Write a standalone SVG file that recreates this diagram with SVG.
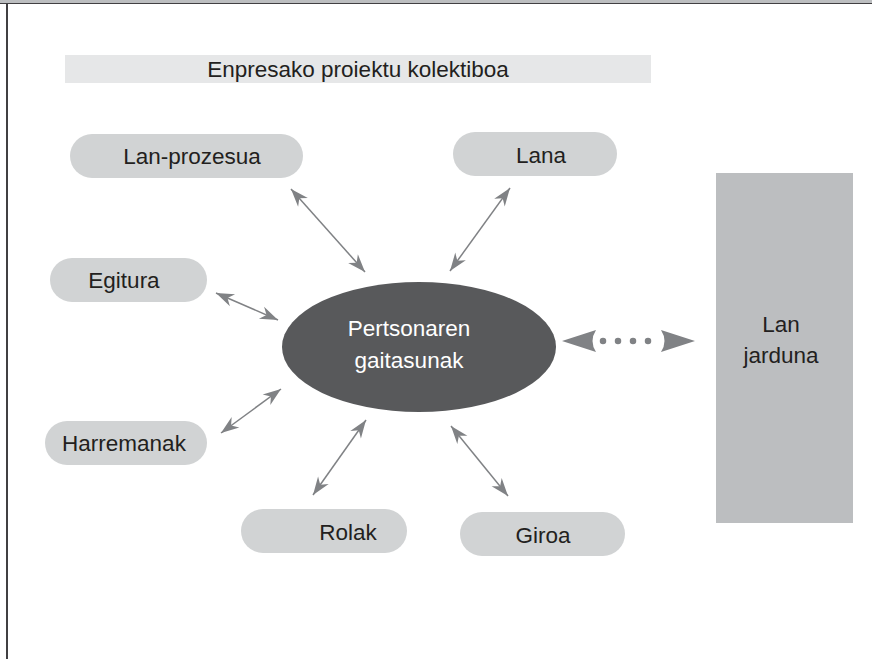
<svg xmlns="http://www.w3.org/2000/svg" width="872" height="659" viewBox="0 0 872 659">
  <style>
    .label { font-family: "Liberation Sans", Arial, sans-serif; font-size: 22.5px; fill: #231f20; text-anchor: middle; }
    .pill { fill: #d1d3d4; }
    .link { stroke: #808285; stroke-width: 1.5; fill: none; marker-start: url(#tip); marker-end: url(#tip); }
  </style>
  <defs>
    <marker id="tip" markerUnits="userSpaceOnUse" markerWidth="20" markerHeight="16" viewBox="-18 -8 20 16" refX="0" refY="0" orient="auto-start-reverse" overflow="visible">
      <path d="M0,0 L-18,-6.5 L-12.5,0 L-18,6.5 Z" fill="#808285"/>
    </marker>
    <path id="bigTip" d="M0,0 L34,-11 Q27,0 34,11 Z" fill="#808285"/>
  </defs>

  <!-- page frame -->
  <rect x="0" y="0" width="872" height="3" fill="#bcbec0"/>
  <line x1="0" y1="3.5" x2="872" y2="3.5" stroke="#414042" stroke-width="1"/>
  <line x1="7" y1="3" x2="7" y2="659" stroke="#414042" stroke-width="2"/>

  <!-- heading band -->
  <g id="title">
    <rect x="65" y="55" width="586" height="28" fill="#e6e7e8"/>
    <text class="label" x="358" y="77">Enpresako proiektu kolektiboa</text>
  </g>

  <!-- connectors -->
  <g id="connectors">
    <line class="link" x1="291" y1="189" x2="365" y2="272"/>
    <line class="link" x1="510" y1="188" x2="450" y2="271"/>
    <line class="link" x1="216" y1="293" x2="278" y2="320"/>
    <line class="link" x1="221" y1="433" x2="281" y2="389"/>
    <line class="link" x1="366" y1="420" x2="313" y2="495"/>
    <line class="link" x1="451" y1="426" x2="508" y2="496"/>
    <g id="dotted-link">
      <use href="#bigTip" transform="translate(562,341)"/>
      <use href="#bigTip" transform="translate(695,341) scale(-1,1)"/>
      <line x1="603" y1="341" x2="663" y2="341" stroke="#808285" stroke-width="6.5" stroke-linecap="round" stroke-dasharray="0 15"/>
    </g>
  </g>

  <!-- nodes -->
  <g id="lan-prozesua">
    <rect class="pill" x="70" y="134" width="233" height="44" rx="22"/>
    <text class="label" x="192" y="164">Lan-prozesua</text>
  </g>
  <g id="lana">
    <rect class="pill" x="453" y="132" width="164" height="44" rx="22"/>
    <text class="label" x="541" y="163">Lana</text>
  </g>
  <g id="egitura">
    <rect class="pill" x="50" y="258" width="157" height="44" rx="22"/>
    <text class="label" x="124" y="288">Egitura</text>
  </g>
  <g id="harremanak">
    <rect class="pill" x="45" y="421" width="162" height="44" rx="22"/>
    <text class="label" x="124" y="451">Harremanak</text>
  </g>
  <g id="rolak">
    <rect class="pill" x="241" y="509" width="166" height="44" rx="22"/>
    <text class="label" x="348" y="540">Rolak</text>
  </g>
  <g id="giroa">
    <rect class="pill" x="460" y="512" width="165" height="44" rx="22"/>
    <text class="label" x="543" y="543">Giroa</text>
  </g>
  <g id="pertsonaren-gaitasunak">
    <ellipse cx="419" cy="347" rx="137" ry="65" fill="#58595b"/>
    <text class="label" x="409" y="336" style="fill:#ffffff">Pertsonaren</text>
    <text class="label" x="409" y="368" style="fill:#ffffff">gaitasunak</text>
  </g>
  <g id="lan-jarduna">
    <rect x="716" y="173" width="137" height="350" fill="#bcbec0"/>
    <text class="label" x="781" y="332">Lan</text>
    <text class="label" x="781" y="363">jarduna</text>
  </g>
</svg>
